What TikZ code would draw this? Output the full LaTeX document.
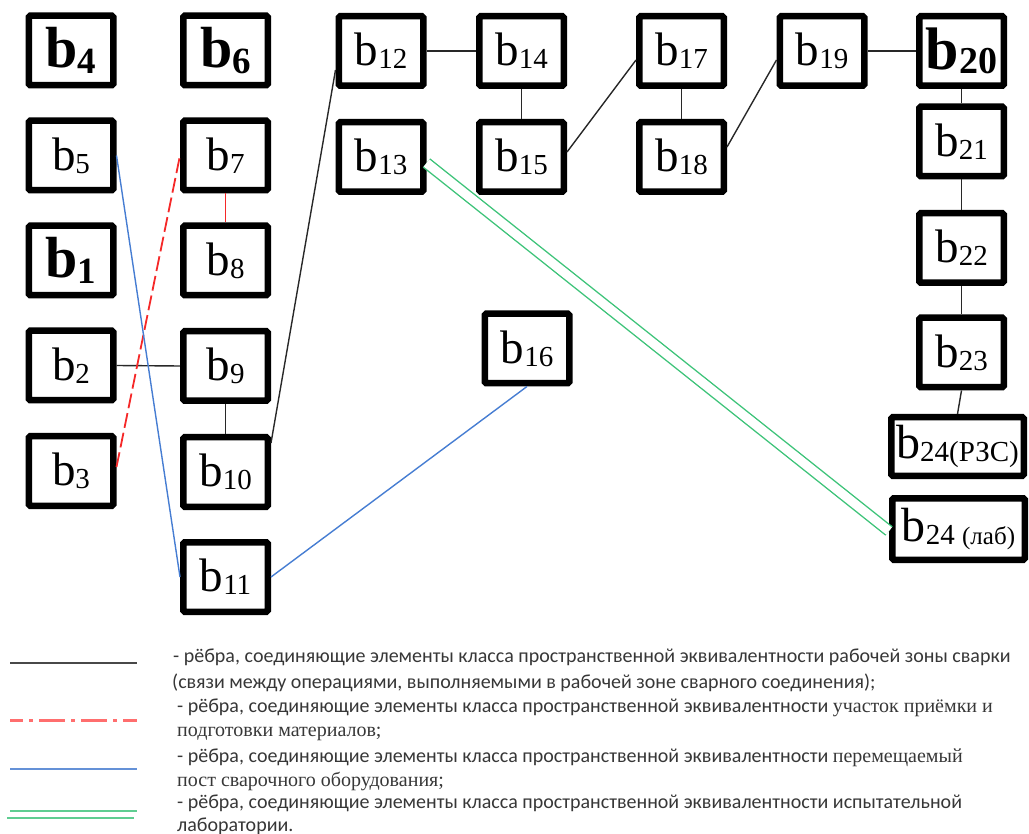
\documentclass[tikz,border=0pt]{standalone}
\usepackage{fontspec}
\setmainfont{Liberation Serif}
\newfontfamily\legsans{Carlito}
\newfontfamily\legserif{Liberation Serif}
\usetikzlibrary{calc}
\definecolor{wzgray}{RGB}{40,40,40}
\definecolor{upred}{RGB}{245,40,40}
\definecolor{upredl}{RGB}{255,110,110}
\definecolor{pblue}{RGB}{70,125,210}
\definecolor{pbluel}{RGB}{100,145,215}
\definecolor{lgreen}{RGB}{60,195,120}
\definecolor{lgreenl}{RGB}{95,205,145}
\definecolor{legtext}{RGB}{55,55,55}
\newcommand\blab[1]{{\fontsize{47}{47}\selectfont b\raisebox{-3pt}{\fontsize{29}{29}\selectfont #1}}}
\newcommand\bbold[1]{{\bfseries\fontsize{58}{58}\selectfont b\raisebox{-6pt}{\fontsize{37}{37}\selectfont #1}}}
\newcommand\bboldb[1]{{\bfseries\fontsize{60}{60}\selectfont b\raisebox{-4pt}{\fontsize{38}{38}\selectfont #1}}}
\begin{document}
\begin{tikzpicture}[x=1pt,y=-1pt,
  box/.style={draw, line width=6.5pt, rounded corners=1.5pt, minimum width=84.5pt,
    minimum height=69.5pt, inner sep=0pt},
  wide/.style={box, minimum width=132.5pt},
  wz/.style={draw=wzgray, line width=1.4pt},
  recv/.style={draw=upred, line width=1.8pt},
  recvdash/.style={recv, dash pattern=on 15pt off 5pt},
  pp/.style={draw=pblue, line width=1.4pt},
  lab/.style={draw=lgreen, line width=1.4pt, double=white, double distance=9pt},
  legt/.style={anchor=base west, inner sep=0pt, text=legtext, font=\legsans\fontsize{20}{20}\selectfont}
]
\useasboundingbox (0,0) rectangle (1029,834);
% column 1
\node[box] (b4) at (71,50.5) {\bbold{4}};
\node[box] (b5) at (71,155.5) {\blab{5}};
\node[box] (b1) at (71,260.5) {\bbold{1}};
\node[box] (b2) at (71,365.5) {\blab{2}};
\node[box] (b3) at (71,471) {\blab{3}};
% column 2
\node[box] (b6) at (225.5,50.5) {\bbold{6}};
\node[box] (b7) at (225.5,155.5) {\blab{7}};
\node[box] (b8) at (225.5,260.5) {\blab{8}};
\node[box] (b9) at (225.5,366) {\blab{9}};
\node[box] (b10) at (225.5,472) {\blab{10}};
\node[box] (b11) at (225.5,577) {\blab{11}};
% upper rows
\node[box] (b12) at (381,51) {\blab{12}};
\node[box] (b13) at (381,157) {\blab{13}};
\node[box] (b14) at (521.5,51) {\blab{14}};
\node[box] (b15) at (521.5,157) {\blab{15}};
\node[box] (b16) at (527,348.5) {\blab{16}};
\node[box] (b17) at (681.5,51) {\blab{17}};
\node[box] (b18) at (681.5,157) {\blab{18}};
\node[box] (b19) at (822,51) {\blab{19}};
\node[box] (b20) at (961.5,51) {\bboldb{20}};
\node[box] (b21) at (961.5,141.5) {\blab{21}};
\node[box] (b22) at (961.5,248) {\blab{22}};
\node[box] (b23) at (961.5,352.5) {\blab{23}};
\node[wide, minimum height=58.5pt] (b24r) at (957.5,446.5)
  {{\fontsize{48}{48}\selectfont b\raisebox{-3pt}{\fontsize{29}{29}\selectfont 24(РЗС)}}};
\node[wide, minimum height=61.5pt] (b24l) at (958.5,529)
  {{\fontsize{48}{48}\selectfont b\raisebox{-3pt}{\fontsize{29}{29}\selectfont 24 {\fontsize{25}{25}\selectfont(лаб)}}}};
% working zone edges
\draw[wz] (b2.east) -- (b9.west);
\draw[wz] (b9.south) -- (b10.north);
\draw[wz] ([yshift=29pt]b10.east) -- ([yshift=-19pt]b12.west);
\draw[wz] (b12.east) -- (b14.west);
\draw[wz] (b14.south) -- (b15.north);
\draw[wz] ([yshift=5pt]b15.east) -- ([yshift=-9pt]b17.west);
\draw[wz] (b17.south) -- (b18.north);
\draw[wz] ([yshift=10pt]b18.east) -- ([yshift=-9pt]b19.west);
\draw[wz] (b19.east) -- (b20.west);
\draw[wz] (b20.south) -- (b21.north);
\draw[wz] (b21.south) -- (b22.north);
\draw[wz] (b22.south) -- (b23.north);
\draw[wz] (b23.south) -- (b24r.north);
% reception area edges
\draw[recvdash] ([yshift=4pt]b3.east) -- (b7.west);
\draw[recv] (b7.south) -- (b8.north);
% mobile post edges
\draw[pp] (b5.east) -- (b11.west);
\draw[pp] (b11.east) -- (b16.south);
% laboratory edge
\draw[lab] ([yshift=-6pt]b13.east) -- ([yshift=-2pt]b24l.west);
% legend
\coordinate (k1a) at (10,663); \coordinate (k1b) at (137,663);
\coordinate (k2a) at (10,720); \coordinate (k2b) at (137,720);
\coordinate (k3a) at (10,769); \coordinate (k3b) at (137,769);
\coordinate (k4a) at (10,811); \coordinate (k4b) at (137,811);
\coordinate (k5a) at (7,818);  \coordinate (k5b) at (134,818);
\draw[draw=wzgray!85, line width=2.5pt] (k1a) -- (k1b);
\draw[draw=upredl, line width=3pt, dash pattern=on 13pt off 6pt on 4pt off 6pt on 26pt off 6pt on 4pt off 6pt on 26pt off 6pt on 4pt off 6pt on 26pt off 6pt on 4pt off 6pt] (k2a) -- (k2b);
\draw[draw=pbluel, line width=2.2pt] (k3a) -- (k3b);
\draw[draw=lgreenl, line width=2.5pt] (k4a) -- (k4b);
\draw[draw=lgreenl, line width=2.5pt] (k5a) -- (k5b);
\node[legt] (t1) at (173,662) {- рёбра, соединяющие элементы класса пространственной эквивалентности рабочей зоны сварки};
\node[legt] (t2) at (172,688) {(связи между операциями, выполняемыми в рабочей зоне сварного соединения);};
\node[legt] (t3) at (177,712) {- рёбра, соединяющие элементы класса пространственной эквивалентности {\legserif участок приёмки и}};
\node[legt] (t4) at (177,736) {\legserif подготовки материалов;};
\node[legt] (t5) at (177,762) {- рёбра, соединяющие элементы класса пространственной эквивалентности {\legserif перемещаемый}};
\node[legt] (t6) at (177,786) {\legserif пост сварочного оборудования;};
\node[legt] (t7) at (177,808) {- рёбра, соединяющие элементы класса пространственной эквивалентности испытательной};
\node[legt] (t8) at (177,831) {лаборатории.};
\end{tikzpicture}
\end{document}
